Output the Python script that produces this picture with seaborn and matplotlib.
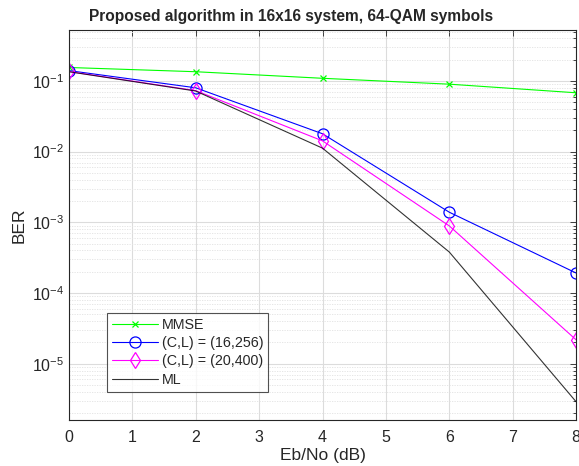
#!/usr/bin/env python3
import numpy as np
import pandas as pd
import seaborn as sns
import matplotlib
matplotlib.use('Agg')
import matplotlib.pyplot as plt
from matplotlib.ticker import LogLocator, NullFormatter

## values (BER vs Eb/No)
ebno      = [0, 2, 4, 6, 8]
ber_mmse  = [0.155, 0.135, 0.109, 0.090, 0.068]
ber_c16   = [0.140, 0.080, 0.0179, 0.00139, 1.92e-4]
ber_c20   = [0.136, 0.073, 0.0142, 8.9e-4, 2.18e-5]
ber_ml    = [0.135, 0.072, 0.0112, 3.8e-4, 2.9e-6]
labels    = ['MMSE', '(C,L) = (16,256)', '(C,L) = (20,400)', 'ML']

styles = {'MMSE': ('#00ff00', 'x', 5),
          '(C,L) = (16,256)': ('#0000ff', 'o', 8),
          '(C,L) = (20,400)': ('#ff00ff', 'd', 8),
          'ML': ('#000000', None, 0)}

df = pd.DataFrame({'x': ebno * 4,
                   'ber': ber_mmse + ber_c16 + ber_c20 + ber_ml,
                   'name': sum([[n] * len(ebno) for n in labels], [])})

sns.set_style('white')
plt.rcParams['font.family'] = ['Liberation Sans', 'DejaVu Sans']

fig = plt.figure(figsize=(5.79, 4.66), dpi=100)
ax = fig.add_axes([0.119, 0.0987, 0.876, 0.8375])

for n in labels:
  colr, mk, ms = styles[n]
  sub = df[df['name'] == n]
  sns.lineplot(data=sub, x='x', y='ber', ax=ax, color=colr, lw=0.8,
               marker=mk, markersize=ms, markerfacecolor='none',
               markeredgecolor=colr, markeredgewidth=0.9 if mk else 0,
               label=n, alpha=0.8 if n == 'ML' else 1.0)

ax.set_yscale('log')
ax.set_xlim(0, 8)
ax.set_ylim(1.6e-6, 0.53)
ax.set_xticks(range(9))
ax.set_yticks([1e-5, 1e-4, 1e-3, 1e-2, 1e-1])
ax.yaxis.set_minor_locator(LogLocator(base=10, subs=np.arange(2, 10), numticks=20))
ax.yaxis.set_minor_formatter(NullFormatter())

ax.grid(which='major', color='#dcdcdc', lw=0.8, ls='-')
ax.grid(which='minor', axis='y', color='#e2e2e2', lw=0.6, ls=(0, (1.5, 1.5)))
ax.set_axisbelow(True)
for s in ax.spines.values():
  s.set_color('#262626')
  s.set_linewidth(0.8)
ax.tick_params(which='both', direction='in', top=True, right=True,
               colors='#262626', labelsize=11.5, width=0.6)
ax.tick_params(which='major', length=4)
ax.tick_params(which='minor', length=2)
ax.tick_params(axis='x', pad=7)

ax.set_xlabel('Eb/No (dB)', fontsize=12.5, color='#262626', labelpad=2)
ax.set_ylabel('BER', fontsize=12.5, color='#262626', labelpad=4)
ax.set_title('Proposed algorithm in 16x16 system, 64-QAM symbols',
             fontsize=11.2, fontweight='bold', pad=6, x=0.438)

leg = ax.legend(loc='lower left', bbox_to_anchor=(0.076, 0.073), fontsize=10.3,
                frameon=True, fancybox=False, edgecolor='#262626',
                borderpad=0.35, labelspacing=0.3, handlelength=3.2,
                handletextpad=0.25, borderaxespad=0)
leg.get_frame().set_linewidth(0.8)

plt.savefig('out.png', dpi=100)
